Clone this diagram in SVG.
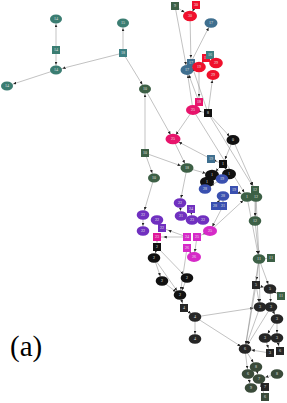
<svg xmlns="http://www.w3.org/2000/svg" width="287" height="403" viewBox="0 0 287 403">
<style>
text{font-family:"Liberation Serif","DejaVu Serif",serif;font-size:4px;fill:#e6e6e6;text-anchor:middle}
#edges line{stroke:#858585;stroke-width:0.5}
.teal{fill:#3b7d72}.tealsq{fill:#3e8083}.dg{fill:#3d6046}.red{fill:#f0102c}.steel{fill:#3f6f8f}
.pink{fill:#e8146c}.blk{fill:#111}.blue{fill:#3a50b0}.pur{fill:#7030c0}.mag{fill:#d62ac8}.pm{fill:#e0189a}
.dk{fill:#262626}.bg{fill:#3a4b3a}
</style>
<defs>
<marker id="a" markerUnits="userSpaceOnUse" markerWidth="4" markerHeight="3" refX="8.4" refY="1.5" orient="auto"><path d="M0,0L3.2,1.5L0,3z" fill="#222"/></marker>
<marker id="b" markerUnits="userSpaceOnUse" markerWidth="4" markerHeight="3" refX="9.8" refY="1.5" orient="auto"><path d="M0,0L3.2,1.5L0,3z" fill="#222"/></marker>
</defs>
<g id="edges">
<line x1="56" y1="50" x2="56" y2="19" marker-end="url(#a)"/>
<line x1="56" y1="50" x2="56" y2="70" marker-end="url(#a)"/>
<line x1="123" y1="53" x2="56" y2="70" marker-end="url(#b)"/>
<line x1="56" y1="70" x2="7" y2="86" marker-end="url(#b)"/>
<line x1="123" y1="53" x2="123" y2="23" marker-end="url(#a)"/>
<line x1="123" y1="53" x2="145" y2="89" marker-end="url(#a)"/>
<line x1="145" y1="153" x2="145" y2="89" marker-end="url(#a)"/>
<line x1="145" y1="153" x2="154" y2="178" marker-end="url(#a)"/>
<line x1="145" y1="153" x2="187" y2="168" marker-end="url(#b)"/>
<line x1="145" y1="89" x2="173" y2="139" marker-end="url(#a)"/>
<line x1="154" y1="178" x2="143" y2="215" marker-end="url(#a)"/>
<line x1="175" y1="6" x2="190" y2="16" marker-end="url(#b)"/>
<line x1="196" y1="5" x2="190" y2="16" marker-end="url(#a)"/>
<line x1="190" y1="16" x2="191" y2="63" marker-end="url(#a)"/>
<line x1="175" y1="6" x2="187" y2="70" marker-end="url(#a)"/>
<line x1="187" y1="70" x2="211" y2="23" marker-end="url(#a)"/>
<line x1="210" y1="55" x2="216" y2="63" marker-end="url(#a)"/>
<line x1="206" y1="58" x2="199" y2="67" marker-end="url(#a)"/>
<line x1="199" y1="67" x2="199" y2="102" marker-end="url(#a)"/>
<line x1="199" y1="102" x2="187" y2="70" marker-end="url(#a)"/>
<line x1="193" y1="110" x2="187" y2="70" marker-end="url(#a)"/>
<line x1="208" y1="113" x2="191" y2="63" marker-end="url(#a)"/>
<line x1="208" y1="113" x2="213" y2="75" marker-end="url(#a)"/>
<line x1="199" y1="102" x2="193" y2="110" marker-end="url(#a)"/>
<line x1="193" y1="110" x2="208" y2="113" marker-end="url(#b)"/>
<line x1="193" y1="110" x2="173" y2="139" marker-end="url(#a)"/>
<line x1="208" y1="113" x2="233" y2="140" marker-end="url(#a)"/>
<line x1="211" y1="159" x2="173" y2="139" marker-end="url(#b)"/>
<line x1="173" y1="139" x2="187" y2="168" marker-end="url(#a)"/>
<line x1="193" y1="110" x2="247" y2="197" marker-end="url(#a)"/>
<line x1="208" y1="113" x2="255" y2="190" marker-end="url(#a)"/>
<line x1="233" y1="140" x2="255" y2="190" marker-end="url(#a)"/>
<line x1="233" y1="140" x2="223" y2="164" marker-end="url(#a)"/>
<line x1="211" y1="159" x2="223" y2="164" marker-end="url(#b)"/>
<line x1="223" y1="164" x2="212" y2="175" marker-end="url(#a)"/>
<line x1="223" y1="164" x2="229" y2="174" marker-end="url(#a)"/>
<line x1="187" y1="168" x2="212" y2="175" marker-end="url(#b)"/>
<line x1="187" y1="168" x2="180" y2="203" marker-end="url(#a)"/>
<line x1="222" y1="179" x2="205" y2="189" marker-end="url(#b)"/>
<line x1="215" y1="206" x2="223" y2="196" marker-end="url(#a)"/>
<line x1="223" y1="206" x2="223" y2="196" marker-end="url(#a)"/>
<line x1="234" y1="190" x2="247" y2="197" marker-end="url(#b)"/>
<line x1="255" y1="190" x2="255" y2="221" marker-end="url(#a)"/>
<line x1="256" y1="197" x2="255" y2="221" marker-end="url(#a)"/>
<line x1="247" y1="197" x2="259" y2="259" marker-end="url(#a)"/>
<line x1="255" y1="221" x2="259" y2="259" marker-end="url(#a)"/>
<line x1="256" y1="197" x2="259" y2="259" marker-end="url(#a)"/>
<line x1="210" y1="231" x2="247" y2="197" marker-end="url(#a)"/>
<line x1="223" y1="206" x2="210" y2="231" marker-end="url(#a)"/>
<line x1="180" y1="203" x2="181" y2="216" marker-end="url(#a)"/>
<line x1="191" y1="209" x2="192" y2="220" marker-end="url(#a)"/>
<line x1="203" y1="220" x2="192" y2="220" marker-end="url(#b)"/>
<line x1="143" y1="215" x2="143" y2="231" marker-end="url(#a)"/>
<line x1="157" y1="220" x2="162" y2="228" marker-end="url(#a)"/>
<line x1="187" y1="237" x2="157" y2="237" marker-end="url(#b)"/>
<line x1="187" y1="237" x2="162" y2="228" marker-end="url(#b)"/>
<line x1="210" y1="231" x2="197" y2="237" marker-end="url(#b)"/>
<line x1="157" y1="237" x2="157" y2="247" marker-end="url(#a)"/>
<line x1="157" y1="247" x2="154" y2="258" marker-end="url(#a)"/>
<line x1="187" y1="248" x2="194" y2="257" marker-end="url(#a)"/>
<line x1="197" y1="237" x2="194" y2="257" marker-end="url(#a)"/>
<line x1="187" y1="248" x2="180" y2="295" marker-end="url(#a)"/>
<line x1="157" y1="247" x2="187" y2="278" marker-end="url(#a)"/>
<line x1="154" y1="258" x2="162" y2="281" marker-end="url(#a)"/>
<line x1="154" y1="258" x2="180" y2="295" marker-end="url(#a)"/>
<line x1="162" y1="281" x2="180" y2="295" marker-end="url(#a)"/>
<line x1="187" y1="278" x2="180" y2="295" marker-end="url(#a)"/>
<line x1="180" y1="295" x2="184" y2="308" marker-end="url(#a)"/>
<line x1="184" y1="308" x2="195" y2="317" marker-end="url(#a)"/>
<line x1="195" y1="317" x2="195" y2="339" marker-end="url(#a)"/>
<line x1="195" y1="317" x2="260" y2="307" marker-end="url(#b)"/>
<line x1="195" y1="317" x2="245" y2="349" marker-end="url(#a)"/>
<line x1="259" y1="259" x2="271" y2="258" marker-end="url(#b)"/>
<line x1="259" y1="259" x2="256" y2="285" marker-end="url(#a)"/>
<line x1="259" y1="259" x2="270" y2="289" marker-end="url(#a)"/>
<line x1="259" y1="259" x2="260" y2="307" marker-end="url(#a)"/>
<line x1="259" y1="259" x2="245" y2="349" marker-end="url(#a)"/>
<line x1="256" y1="285" x2="270" y2="289" marker-end="url(#b)"/>
<line x1="256" y1="285" x2="260" y2="307" marker-end="url(#a)"/>
<line x1="256" y1="285" x2="245" y2="349" marker-end="url(#a)"/>
<line x1="270" y1="289" x2="281" y2="296" marker-end="url(#a)"/>
<line x1="270" y1="289" x2="271" y2="307" marker-end="url(#a)"/>
<line x1="260" y1="307" x2="271" y2="307" marker-end="url(#b)"/>
<line x1="271" y1="307" x2="277" y2="319" marker-end="url(#a)"/>
<line x1="277" y1="319" x2="265" y2="338" marker-end="url(#a)"/>
<line x1="277" y1="319" x2="277" y2="338" marker-end="url(#a)"/>
<line x1="260" y1="307" x2="245" y2="349" marker-end="url(#a)"/>
<line x1="271" y1="307" x2="245" y2="349" marker-end="url(#a)"/>
<line x1="270" y1="353" x2="245" y2="349" marker-end="url(#b)"/>
<line x1="265" y1="338" x2="270" y2="353" marker-end="url(#a)"/>
<line x1="277" y1="338" x2="280" y2="351" marker-end="url(#a)"/>
<line x1="245" y1="349" x2="256" y2="367" marker-end="url(#a)"/>
<line x1="245" y1="349" x2="248" y2="374" marker-end="url(#a)"/>
<line x1="256" y1="367" x2="259" y2="379" marker-end="url(#a)"/>
<line x1="277" y1="374" x2="259" y2="379" marker-end="url(#b)"/>
<line x1="265" y1="387" x2="259" y2="379" marker-end="url(#a)"/>
<line x1="265" y1="397" x2="259" y2="379" marker-end="url(#a)"/>
<line x1="248" y1="374" x2="251" y2="388" marker-end="url(#a)"/>
</g>
<g id="n1" class="teal"><ellipse cx="56" cy="19" rx="6" ry="4.5"/><text x="56" y="20.4">14</text></g>
<g id="n2" class="teal"><rect x="52" y="46" width="8" height="8"/><text x="56" y="51.4">14</text></g>
<g id="n3" class="teal"><ellipse cx="56" cy="70" rx="6" ry="4.5"/><text x="56" y="71.4">14</text></g>
<g id="n4" class="teal"><ellipse cx="7" cy="86" rx="6" ry="4.5"/><text x="7" y="87.4">14</text></g>
<g id="n5" class="teal"><ellipse cx="123" cy="23" rx="6" ry="4.5"/><text x="123" y="24.4">15</text></g>
<g id="n6" class="tealsq"><rect x="119" y="49" width="8" height="8"/><text x="123" y="54.4">18</text></g>
<g id="n7" class="dg"><ellipse cx="145" cy="89" rx="6" ry="4.5"/><text x="145" y="90.4">10</text></g>
<g id="n8" class="dg"><rect x="141" y="149" width="8" height="8"/><text x="145" y="154.4">10</text></g>
<g id="n9" class="dg"><ellipse cx="154" cy="178" rx="6" ry="4.5"/><text x="154" y="179.4">10</text></g>
<g id="n10" class="dg"><ellipse cx="187" cy="168" rx="6.5" ry="4.8"/><text x="187" y="169.4">18</text></g>
<g id="n11" class="dg"><rect x="171" y="2" width="8" height="8"/><text x="175" y="7.4">9</text></g>
<g id="n12" class="red"><rect x="192" y="1" width="8" height="8"/><text x="196" y="6.4">30</text></g>
<g id="n13" class="red"><ellipse cx="190" cy="16" rx="7" ry="5.3"/><text x="190" y="17.4">30</text></g>
<g id="n14" class="steel"><ellipse cx="211" cy="23" rx="6.5" ry="4.8"/><text x="211" y="24.4">17</text></g>
<g id="n15" class="steel"><rect x="187" y="59" width="8" height="8"/><text x="191" y="64.4">17</text></g>
<g id="n16" class="steel"><ellipse cx="187" cy="70" rx="6.5" ry="5"/><text x="187" y="71.4">17</text></g>
<g id="n17" class="red"><rect x="202" y="54" width="8" height="8"/><text x="206" y="59.4">19</text></g>
<g id="n18" class="red"><ellipse cx="199" cy="67" rx="6.8" ry="5.2"/><text x="199" y="68.4">19</text></g>
<g id="n19" class="tealsq"><rect x="206" y="51" width="8" height="8"/><text x="210" y="56.4">16</text></g>
<g id="n20" class="red"><ellipse cx="216" cy="63" rx="6.8" ry="5.2"/><text x="216" y="64.4">29</text></g>
<g id="n21" class="red"><ellipse cx="213" cy="75" rx="6.5" ry="5"/><text x="213" y="76.4">29</text></g>
<g id="n22" class="pink"><rect x="195" y="98" width="8" height="8"/><text x="199" y="103.4">18</text></g>
<g id="n23" class="pink"><ellipse cx="193" cy="110" rx="7" ry="5"/><text x="193" y="111.4">25</text></g>
<g id="n24" class="blk"><rect x="204" y="109" width="8" height="8"/><text x="208" y="114.4">8</text></g>
<g id="n25" class="pink"><ellipse cx="173" cy="139" rx="7.5" ry="5.2"/><text x="173" y="140.4">25</text></g>
<g id="n26" class="blk"><ellipse cx="233" cy="140" rx="6.5" ry="5"/><text x="233" y="141.4">0</text></g>
<g id="n27" class="steel"><rect x="207" y="155" width="8" height="8"/><text x="211" y="160.4">19</text></g>
<g id="n28" class="blk"><rect x="219" y="160" width="8" height="8"/><text x="223" y="165.4">1</text></g>
<g id="n29" class="blk"><ellipse cx="212" cy="175" rx="7" ry="5.3"/><text x="212" y="176.4">1</text></g>
<g id="n30" class="blk"><ellipse cx="229" cy="174" rx="7" ry="5.3"/><text x="229" y="175.4">1</text></g>
<g id="n31" class="blk"><ellipse cx="207" cy="182" rx="7" ry="5.3"/><text x="207" y="183.4">1</text></g>
<g id="n32" class="blue"><ellipse cx="222" cy="179" rx="6.3" ry="4.8"/><text x="222" y="180.4">19</text></g>
<g id="n33" class="blue"><ellipse cx="205" cy="189" rx="6.3" ry="4.8"/><text x="205" y="190.4">28</text></g>
<g id="n34" class="blue"><rect x="230" y="186" width="8" height="8"/><text x="234" y="191.4">19</text></g>
<g id="n35" class="blue"><ellipse cx="223" cy="196" rx="6.3" ry="4.8"/><text x="223" y="197.4">28</text></g>
<g id="n36" class="blue"><rect x="211" y="202" width="8" height="8"/><text x="215" y="207.4">28</text></g>
<g id="n37" class="blue"><rect x="219" y="202" width="8" height="8"/><text x="223" y="207.4">21</text></g>
<g id="n38" class="dg"><rect x="251" y="186" width="8" height="8"/><text x="255" y="191.4">12</text></g>
<g id="n39" class="dg"><ellipse cx="247" cy="197" rx="6.3" ry="4.8"/><text x="247" y="198.4">1</text></g>
<g id="n40" class="dg"><ellipse cx="256" cy="197" rx="6.3" ry="4.8"/><text x="256" y="198.4">12</text></g>
<g id="n41" class="dg"><ellipse cx="255" cy="221" rx="6.3" ry="4.8"/><text x="255" y="222.4">12</text></g>
<g id="n42" class="pur"><ellipse cx="180" cy="203" rx="6.3" ry="4.8"/><text x="180" y="204.4">22</text></g>
<g id="n43" class="pur"><rect x="187" y="205" width="8" height="8"/><text x="191" y="210.4">24</text></g>
<g id="n44" class="pur"><ellipse cx="181" cy="216" rx="6.3" ry="4.8"/><text x="181" y="217.4">21</text></g>
<g id="n45" class="pur"><ellipse cx="192" cy="220" rx="6.3" ry="4.8"/><text x="192" y="221.4">23</text></g>
<g id="n46" class="pur"><ellipse cx="203" cy="220" rx="6.3" ry="4.8"/><text x="203" y="221.4">22</text></g>
<g id="n47" class="pur"><ellipse cx="143" cy="215" rx="6.3" ry="4.8"/><text x="143" y="216.4">22</text></g>
<g id="n48" class="pur"><ellipse cx="157" cy="220" rx="6.3" ry="4.8"/><text x="157" y="221.4">22</text></g>
<g id="n49" class="pur"><rect x="158" y="224" width="8" height="8"/><text x="162" y="229.4">22</text></g>
<g id="n50" class="pur"><ellipse cx="143" cy="231" rx="6.3" ry="4.8"/><text x="143" y="232.4">22</text></g>
<g id="n51" class="mag"><ellipse cx="210" cy="231" rx="7" ry="5"/><text x="210" y="232.4">25</text></g>
<g id="n52" class="pm"><rect x="153" y="233" width="8" height="8"/><text x="157" y="238.4">23</text></g>
<g id="n53" class="mag"><rect x="183" y="233" width="8" height="8"/><text x="187" y="238.4">24</text></g>
<g id="n54" class="mag"><rect x="193" y="233" width="8" height="8"/><text x="197" y="238.4">25</text></g>
<g id="n55" class="blk"><rect x="153" y="243" width="8" height="8"/><text x="157" y="248.4">2</text></g>
<g id="n56" class="mag"><rect x="183" y="244" width="8" height="8"/><text x="187" y="249.4">26</text></g>
<g id="n57" class="mag"><ellipse cx="194" cy="257" rx="7" ry="5"/><text x="194" y="258.4">26</text></g>
<g id="n58" class="blk"><ellipse cx="154" cy="258" rx="6.3" ry="4.8"/><text x="154" y="259.4">2</text></g>
<g id="n59" class="blk"><ellipse cx="162" cy="281" rx="6.3" ry="4.8"/><text x="162" y="282.4">2</text></g>
<g id="n60" class="blk"><ellipse cx="187" cy="278" rx="6.3" ry="4.8"/><text x="187" y="279.4">2</text></g>
<g id="n61" class="blk"><ellipse cx="180" cy="295" rx="6.3" ry="4.8"/><text x="180" y="296.4">2</text></g>
<g id="n62" class="dk"><rect x="180" y="304" width="8" height="8"/><text x="184" y="309.4">4</text></g>
<g id="n63" class="dk"><ellipse cx="195" cy="317" rx="6.3" ry="4.8"/><text x="195" y="318.4">4</text></g>
<g id="n64" class="dk"><ellipse cx="195" cy="339" rx="6.3" ry="4.8"/><text x="195" y="340.4">4</text></g>
<g id="n65" class="dg"><ellipse cx="259" cy="259" rx="6.3" ry="4.8"/><text x="259" y="260.4">11</text></g>
<g id="n66" class="dg"><rect x="267" y="254" width="8" height="8"/><text x="271" y="259.4">11</text></g>
<g id="n67" class="dk"><rect x="252" y="281" width="8" height="8"/><text x="256" y="286.4">5</text></g>
<g id="n68" class="dk"><ellipse cx="270" cy="289" rx="6.3" ry="4.8"/><text x="270" y="290.4">5</text></g>
<g id="n69" class="dg"><rect x="277" y="292" width="8" height="8"/><text x="281" y="297.4">11</text></g>
<g id="n70" class="dk"><ellipse cx="260" cy="307" rx="6.3" ry="4.8"/><text x="260" y="308.4">3</text></g>
<g id="n71" class="dk"><ellipse cx="271" cy="307" rx="6.3" ry="4.8"/><text x="271" y="308.4">3</text></g>
<g id="n72" class="dk"><ellipse cx="277" cy="319" rx="6.3" ry="4.8"/><text x="277" y="320.4">3</text></g>
<g id="n73" class="dk"><ellipse cx="265" cy="338" rx="6.3" ry="4.8"/><text x="265" y="339.4">3</text></g>
<g id="n74" class="dk"><ellipse cx="277" cy="338" rx="6.3" ry="4.8"/><text x="277" y="339.4">3</text></g>
<g id="n75" class="dk"><ellipse cx="245" cy="349" rx="6.3" ry="4.8"/><text x="245" y="350.4">6</text></g>
<g id="n76" class="dk"><rect x="266" y="349" width="8" height="8"/><text x="270" y="354.4">3</text></g>
<g id="n77" class="dk"><rect x="276" y="347" width="8" height="8"/><text x="280" y="352.4">6</text></g>
<g id="n78" class="bg"><ellipse cx="256" cy="367" rx="6.3" ry="4.8"/><text x="256" y="368.4">8</text></g>
<g id="n79" class="bg"><ellipse cx="248" cy="374" rx="6.3" ry="4.8"/><text x="248" y="375.4">6</text></g>
<g id="n80" class="bg"><ellipse cx="259" cy="379" rx="6.3" ry="4.8"/><text x="259" y="380.4">7</text></g>
<g id="n81" class="bg"><ellipse cx="277" cy="374" rx="6.3" ry="4.8"/><text x="277" y="375.4">8</text></g>
<g id="n82" class="bg"><ellipse cx="251" cy="388" rx="6.3" ry="4.8"/><text x="251" y="389.4">9</text></g>
<g id="n83" class="dk"><rect x="261" y="383" width="8" height="8"/><text x="265" y="388.4">7</text></g>
<g id="n84" class="bg"><rect x="261" y="393" width="8" height="8"/><text x="265" y="398.4">6</text></g>
<text x="10" y="356" style="font-size:29px;fill:#000;text-anchor:start">(a)</text>
</svg>
